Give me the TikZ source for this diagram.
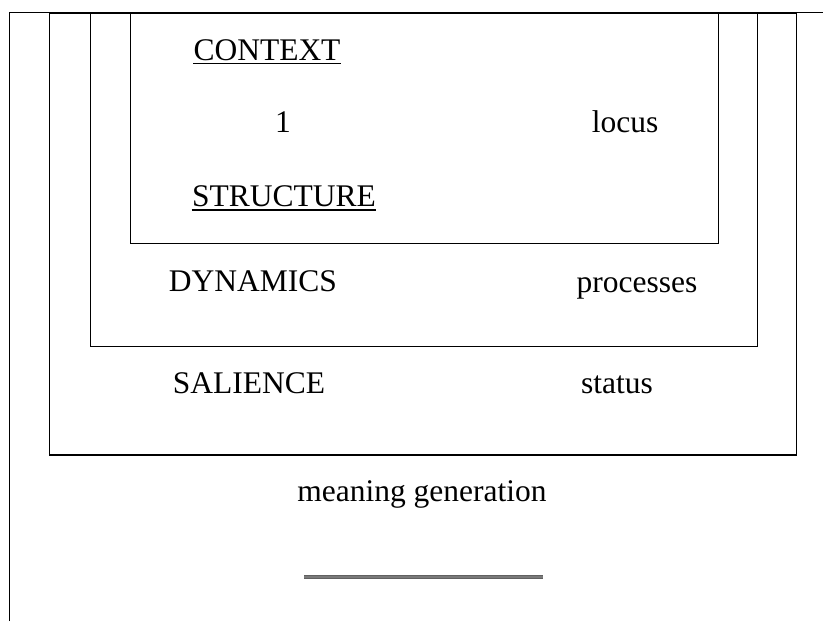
\documentclass[tikz,border=0pt]{standalone}
\usepackage{fontspec}
\setmainfont{Liberation Serif}

\begin{document}
\begin{tikzpicture}[x=0.5pt, y=-0.5pt,
    lbl/.style={anchor=base, inner sep=0pt, font=\fontsize{15.75}{19}\selectfont},
    frame/.style={black, line width=0.75pt},
    uline/.style={black, line width=0.75pt}]
    \useasboundingbox (0,0) rectangle (823,621);
    % page frame
    \draw[black, line width=0.7pt] (9.3,621) -- (9.3,12.7) -- (823,12.7);
    % nested boxes
    \draw[frame] (49.3,13.7) rectangle (796.7,455);
    \draw[frame] (90.3,13.7) rectangle (757.3,346.5);
    \draw[frame] (130.3,13.7) rectangle (718.3,243.5);
    % labels
    \node[lbl] (context) at (267,60) {CONTEXT};
    \node[lbl] (one) at (283,132.5) {1};
    \node[lbl] (locus) at (625,132.3) {locus};
    \node[lbl] (structure) at (284,206.7) {STRUCTURE};
    \node[lbl] (dynamics) at (253,291.7) {DYNAMICS};
    \node[lbl] (processes) at (637,292) {processes};
    \node[lbl] (salience) at (249,393) {SALIENCE};
    \node[lbl] (status) at (617,393) {status};
    \node[lbl] (meaning) at (422,501.7) {meaning generation};
    \draw[uline] ([yshift=-1.7pt]context.base west) -- ([yshift=-1.7pt]context.base east);
    \draw[uline] ([yshift=-1.7pt]structure.base west) -- ([yshift=-1.7pt]structure.base east);
    % grey rule at the bottom
    \coordinate (barL) at (304,577);
    \coordinate (barR) at (543,577);
    \draw[black!62, line width=2.2pt] (barL) -- (barR);
    \draw[black!52, line width=0.8pt] (barL) -- (barR);
\end{tikzpicture}
\end{document}
